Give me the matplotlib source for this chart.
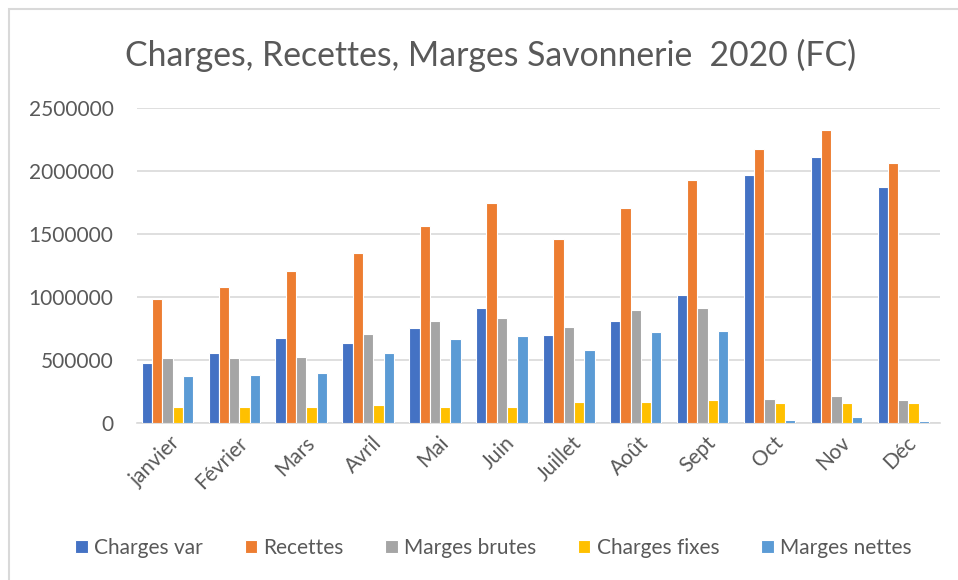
import numpy as np
import matplotlib
matplotlib.use("Agg")
import matplotlib.pyplot as plt
from matplotlib.patches import Rectangle

plt.rcParams['font.family'] = ['Lato', 'DejaVu Sans']

mois = ['janvier', 'Février', 'Mars', 'Avril', 'Mai', 'Juin', 'Juillet',
        'Août', 'Sept', 'Oct', 'Nov', 'Déc']
charges_var = [474000, 556000, 677000, 637000, 749000, 913000, 698000,
               810000, 1013000, 1971000, 2114000, 1870000]
recettes = [984000, 1077000, 1206000, 1349000, 1563000, 1746000, 1460000,
            1706000, 1931000, 2175000, 2328000, 2063000]
marges_brutes = [516000, 516000, 524000, 709000, 812000, 831000, 759000,
                 894000, 913000, 190000, 212000, 180000]
charges_fixes = [127000, 127000, 127000, 140000, 127000, 127000, 169000,
                 169000, 180000, 159000, 159000, 159000]
marges_nettes = [373000, 383000, 394000, 556000, 667000, 688000, 577000,
                 720000, 730000, 26000, 48000, 16000]

series = [
    ('Charges var', charges_var, '#4472C4'),
    ('Recettes', recettes, '#ED7D31'),
    ('Marges brutes', marges_brutes, '#A5A5A5'),
    ('Charges fixes', charges_fixes, '#FFC000'),
    ('Marges nettes', marges_nettes, '#5B9BD5'),
]

txt = '#595959'
fig = plt.figure(figsize=(9.58, 5.8), dpi=100)
ax = fig.add_axes([0.143, 0.271, 0.838, 0.543])

x = np.arange(len(mois))
w = 0.154
for i, (nom, vals, col) in enumerate(series):
    ax.bar(x + (i - 2) * w - 0.045, vals, width=w, color=col, label=nom,
           edgecolor='white', linewidth=0.8, zorder=3)

ax.set_xlim(-0.5, len(mois) - 0.5)
ax.set_ylim(0, 2500000)
ax.set_yticks(np.arange(0, 2500001, 500000))
ax.set_yticklabels([str(v) for v in range(0, 2500001, 500000)])
ax.yaxis.grid(True, color='#D9D9D9', linewidth=1.2, zorder=0)
ax.tick_params(axis='y', length=0, labelsize=15, labelcolor=txt, pad=17)
ax.tick_params(axis='x', length=0, labelsize=15, labelcolor=txt, pad=7)
ax.set_xticks(x)
ax.set_xticklabels(mois, rotation=45, ha='right', rotation_mode='anchor')
for s in ['top', 'right', 'left']:
    ax.spines[s].set_visible(False)
ax.spines['bottom'].set_color('#D9D9D9')
ax.spines['bottom'].set_linewidth(1.2)

fig.text(0.512, 0.905, 'Charges, Recettes, Marges Savonnerie  2020 (FC)',
         ha='center', va='center', fontsize=24.3, color=txt)

leg = fig.legend(loc='center', bbox_to_anchor=(0.515, 0.055), ncol=5,
                 frameon=False, fontsize=15, handlelength=0.6,
                 handleheight=0.6, handletextpad=0.3, columnspacing=2.0)
for t in leg.get_texts():
    t.set_color(txt)

fig.patches.append(Rectangle((9 / 958, -0.1), 1.2, 1 - 9 / 580 + 0.1,
                             transform=fig.transFigure, fill=False,
                             edgecolor='#D9D9D9', linewidth=1.5))

fig.savefig('out.png', dpi=100)
